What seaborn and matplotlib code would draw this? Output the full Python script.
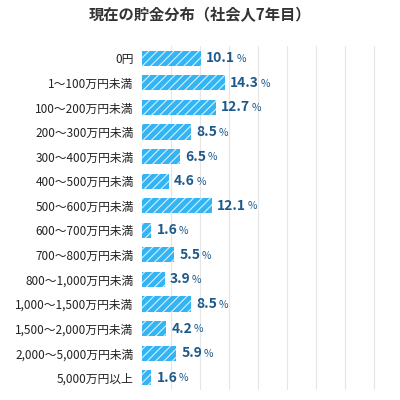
import matplotlib
matplotlib.use("Agg")
import matplotlib.pyplot as plt
import seaborn as sns
import pandas as pd

categories = ["0円", "1〜100万円未満", "100〜200万円未満", "200〜300万円未満", "300〜400万円未満",
              "400〜500万円未満", "500〜600万円未満", "600〜700万円未満", "700〜800万円未満",
              "800〜1,000万円未満", "1,000〜1,500万円未満", "1,500〜2,000万円未満",
              "2,000〜5,000万円未満", "5,000万円以上"]
values = [10.1, 14.3, 12.7, 8.5, 6.5, 4.6, 12.1, 1.6, 5.5, 3.9, 8.5, 4.2, 5.9, 1.6]

sns.set_style("white")
plt.rcParams["font.family"] = ["Noto Sans CJK JP", "DejaVu Sans"]
plt.rcParams["hatch.linewidth"] = 0.8

df = pd.DataFrame({"cat": categories, "val": values})
fig = plt.figure(figsize=(4, 4), dpi=100)
ax = fig.add_axes([0.355, 0.025, 0.645, 0.86])
sns.barplot(data=df, x="val", y="cat", color="#33b5f5", saturation=1, width=0.62, ax=ax,
            linewidth=0)
for p in ax.patches:
    p.set_hatch("////")
    p.set_edgecolor("#d8f0fd")
    p.set_linewidth(0)
ax.set_xlim(0, 44.5)
for gx in range(5, 45, 5):
    ax.axvline(gx, color="#e6e6e6", lw=0.8, zorder=0)
for i, v in enumerate(values):
    t = ax.text(v + 0.9, i, f"{v}", va="center", ha="left", fontsize=10,
                fontweight="bold", color="#1d5a8c")
    ax.annotate("%", xy=(1, 0.45), xycoords=t, xytext=(1, 0), textcoords="offset points",
                va="center", ha="left", fontsize=7.5, color="#1d5a8c")
ax.set_xlabel("")
ax.set_ylabel("")
ax.set_xticks([])
ax.tick_params(axis="y", length=0, labelsize=8.5, pad=6, labelcolor="#222222")
for s in ax.spines.values():
    s.set_visible(False)
fig.text(0.5, 0.963, "現在の貯金分布（社会人7年目）", ha="center", va="center",
         fontsize=11, fontweight="bold", color="#333333")
fig.savefig("out.png", dpi=100)
